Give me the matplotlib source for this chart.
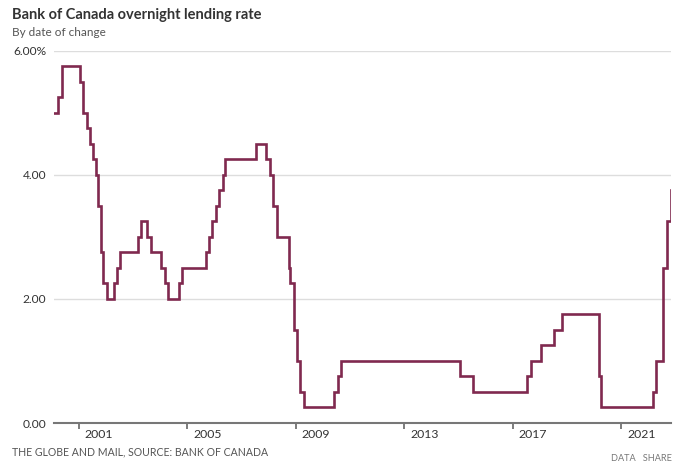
import matplotlib.pyplot as plt
import matplotlib.dates as mdates
import matplotlib.transforms as mtransforms
import pandas as pd

plt.rcParams['font.family'] = ['Lato', 'DejaVu Sans']

# Bank of Canada overnight rate, by date of change
change_dates = [
    "2000-02-03", "2000-03-22", "2000-05-17",
    "2001-01-23", "2001-03-06", "2001-04-17", "2001-05-29", "2001-07-17",
    "2001-08-28", "2001-09-17", "2001-10-23", "2001-11-27",
    "2002-01-15", "2002-04-16", "2002-06-04", "2002-07-16",
    "2003-03-04", "2003-04-15", "2003-07-15", "2003-09-03",
    "2004-01-20", "2004-03-02", "2004-04-13", "2004-09-08", "2004-10-19",
    "2005-09-07", "2005-10-18", "2005-12-06",
    "2006-01-24", "2006-03-07", "2006-04-25", "2006-05-24",
    "2007-07-10", "2007-12-04",
    "2008-01-22", "2008-03-04", "2008-04-22", "2008-10-08", "2008-10-21", "2008-12-09",
    "2009-01-20", "2009-03-03", "2009-04-21",
    "2010-06-01", "2010-07-20", "2010-09-08",
    "2015-01-21", "2015-07-15",
    "2017-07-12", "2017-09-06",
    "2018-01-17", "2018-07-11", "2018-10-24",
    "2020-03-04", "2020-03-13", "2020-03-27",
    "2022-03-02", "2022-04-13", "2022-07-13", "2022-09-07", "2022-10-26",
]
rates = [
    5.00, 5.25, 5.75,
    5.50, 5.00, 4.75, 4.50, 4.25,
    4.00, 3.50, 2.75, 2.25,
    2.00, 2.25, 2.50, 2.75,
    3.00, 3.25, 3.00, 2.75,
    2.50, 2.25, 2.00, 2.25, 2.50,
    2.75, 3.00, 3.25,
    3.50, 3.75, 4.00, 4.25,
    4.50, 4.25,
    4.00, 3.50, 3.00, 2.50, 2.25, 1.50,
    1.00, 0.50, 0.25,
    0.50, 0.75, 1.00,
    0.75, 0.50,
    0.75, 1.00,
    1.25, 1.50, 1.75,
    1.25, 0.75, 0.25,
    0.50, 1.00, 2.50, 3.25, 3.75,
]
tick_years = [2001, 2005, 2009, 2013, 2017, 2021]
y_ticks = [0, 2, 4, 6]
y_labels = ["0.00", "2.00", "4.00", "6.00%"]

dates = pd.to_datetime(change_dates)

fig = plt.figure(figsize=(6.8, 4.65), dpi=100)
ax = fig.add_axes([54 / 680, 1 - 423 / 465, 617 / 680, (423 - 50.7) / 465])

ax.plot(dates, rates, drawstyle='steps-post', color='#80294f', linewidth=1.9,
        solid_joinstyle='miter', zorder=3)

ax.set_ylim(0, 6)
ax.set_xlim(pd.Timestamp("2000-02-03"), pd.Timestamp("2022-11-01"))

ax.set_yticks(y_ticks)
ax.set_yticklabels(y_labels)
ax.tick_params(axis='y', length=0, pad=5.5, labelsize=8.6, labelcolor='#333333')
ax.yaxis.grid(True, color='#dddddd', linewidth=1)
ax.set_axisbelow(True)

ax.set_xticks([pd.Timestamp(f"{y}-01-01") for y in tick_years])
ax.xaxis.set_major_formatter(mdates.DateFormatter('%Y'))
ax.tick_params(axis='x', direction='out', length=4, width=1.2, color='#666666',
               pad=0, labelsize=8.8, labelcolor='#333333')
offset = mtransforms.ScaledTranslation(6 / 100, 0, fig.dpi_scale_trans)
for lbl in ax.get_xticklabels():
    lbl.set_horizontalalignment('left')
    lbl.set_transform(lbl.get_transform() + offset)

for side in ['top', 'right', 'left']:
    ax.spines[side].set_visible(False)
ax.spines['bottom'].set_color('#777777')
ax.spines['bottom'].set_linewidth(1.5)

fig.text(12 / 680, 1 - 15 / 465, "Bank of Canada overnight lending rate",
         fontsize=10.5, fontweight='bold', color='#333333', va='center', ha='left')
fig.text(12 / 680, 1 - 32 / 465, "By date of change",
         fontsize=8.5, color='#555555', va='center', ha='left')
fig.text(12 / 680, 1 - 452 / 465, "THE GLOBE AND MAIL, SOURCE: BANK OF CANADA",
         fontsize=7.6, color='#555555', va='center', ha='left')
fig.text(672 / 680, 1 - 458 / 465, "DATA   SHARE",
         fontsize=6.6, color='#777777', va='center', ha='right')

fig.savefig('out.png', dpi=100)
